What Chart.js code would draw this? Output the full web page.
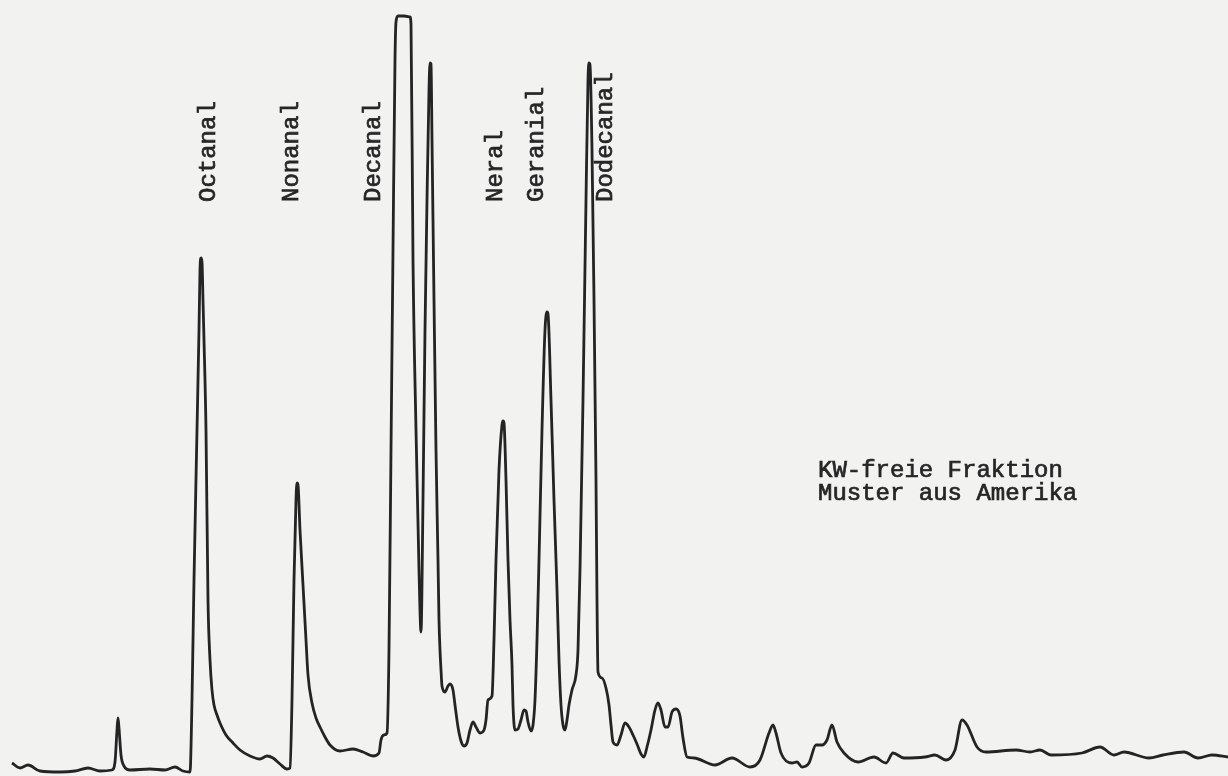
<!DOCTYPE html>
<html>
<head>
<meta charset="utf-8">
<script src="https://cdn.jsdelivr.net/npm/chart.js@4/dist/chart.umd.min.js"></script>
<style>
  html, body { margin: 0; padding: 0; background: #f2f2f0; }
  #wrap { width: 1228px; height: 776px; }
</style>
</head>
<body>
<div id="wrap"><canvas id="gcChart" width="1228" height="776"></canvas></div>
<script>
// ================= Data =================
// recorder trace: chart-paper position (x) and pen deflection (signal)
const retention = [
    12, 20, 28, 40, 60, 75, 88, 100, 112, 115, 117, 118, 119, 121, 124, 130, 150, 165, 175, 183, 190,
    192, 194, 197, 199, 200, 201, 202, 203, 204, 206, 208, 210, 212, 214, 217, 220, 226, 233, 240, 250,
    260, 267, 273, 280, 287, 290,
    292, 294, 296, 297, 298, 300, 303, 306, 308, 312, 316, 320, 325, 330, 340, 353, 363, 373, 379, 381,
    384, 387,
    389, 391, 393, 395, 396, 398, 404, 410, 411, 413, 416, 419, 421, 423, 425, 427, 429, 430, 431, 432,
    434, 436, 438, 439, 440, 441, 442, 445, 448, 450, 453, 455, 458, 461, 464, 467, 470, 473, 476, 480,
    484, 486, 488, 492, 494, 496, 499, 502, 503, 504, 506, 508, 510, 512, 513, 515, 518, 521, 524, 526,
    528, 531, 533, 535, 537, 539, 542, 545, 547, 548, 551, 554, 557, 559, 561, 563, 565, 567, 569, 572,
    576, 578, 580, 583, 586, 588, 589, 590, 592, 594, 596, 597, 598, 602, 606, 609, 611, 613, 617, 621,
    625, 629, 633, 637, 641, 644, 647, 651, 655, 658, 661, 665, 668, 672, 676, 680, 683, 687, 694, 715,
    732, 750, 760, 769, 773, 776, 781, 792, 797, 802, 809, 816, 822, 827, 832, 837, 844, 858, 874, 886,
    893, 904, 925, 935, 946, 955, 962, 967, 977, 986, 1016, 1030, 1040, 1051, 1082, 1100, 1114, 1124,
    1149, 1163, 1184, 1198, 1212, 1228
];
const signal = [
    13, 8, 11, 5, 4, 5, 8, 5, 6, 14, 46, 58, 48, 21, 10, 6, 7, 6, 9, 5, 4,
    76, 196, 346, 446, 506, 518, 514, 476, 436, 346, 176, 116, 86, 71, 61, 53, 41, 33, 26, 20,
    17, 20, 18, 12, 7, 8,
    76, 196, 276, 293, 291, 246, 191, 136, 101, 73, 58, 49, 39, 31, 25, 27, 24, 20, 23, 36,
    41, 43,
    126, 326, 526, 716, 754, 760, 760, 759, 752, 516, 346, 206, 144, 276, 446, 576, 686, 713, 712, 636,
    476, 326, 216, 156, 126, 106, 90, 84, 90, 92, 86, 71, 49, 35, 30, 33, 46, 54, 49, 43,
    46, 56, 76, 80, 136, 216, 306, 351, 355, 353, 296, 216, 156, 111, 71, 46, 47, 56, 66, 65,
    54, 45, 51, 76, 136, 216, 346, 446, 464, 462, 376, 276, 186, 116, 71, 51, 46, 56, 71, 86,
    101, 126, 206, 376, 576, 696, 713, 711, 626, 476, 296, 176, 104, 98, 88, 71, 51, 34, 31, 41,
    53, 49, 41, 32, 22, 19, 29, 46, 66, 73, 66, 49, 49, 64, 67, 60, 38, 19, 18, 11,
    18, 9, 16, 43, 51, 43, 23, 13, 14, 9, 13, 31, 31, 36, 51, 34, 23, 14, 19, 13,
    23, 18, 19, 21, 16, 26, 56, 51, 29, 24, 26, 24, 26, 21, 23, 29, 21, 24,
    18, 21, 24, 18, 21, 19
];

// peak labels and where their baseline sits on the paper
const peakNames = ["Octanal", "Nonanal", "Decanal", "Neral", "Geranial", "Dodecanal"];
const labelAt = [215, 298, 380, 502, 543, 612];
const noteLines = ["KW-freie Fraktion", "Muster aus Amerika"];

// ================= Labels plugin =================
const typewriterLabels = {
    id: "typewriterLabels",
    afterDatasetsDraw(chart) {
        const { ctx, scales: { x, y } } = chart;
        ctx.save();
        ctx.fillStyle = "#262626";
        ctx.strokeStyle = "#262626";
        ctx.lineWidth = 0.7;
        ctx.font = "24px 'Liberation Mono', 'DejaVu Sans Mono', monospace";
        ctx.textAlign = "left";
        ctx.textBaseline = "alphabetic";

        // typed text looks a bit heavier than the plain font
        const typeText = (text, px, py) => {
            ctx.fillText(text, px, py);
            ctx.strokeText(text, px, py);
        };

        peakNames.forEach((name, i) => {
            ctx.save();
            ctx.translate(x.getPixelForValue(labelAt[i]), y.getPixelForValue(574));
            ctx.rotate(-Math.PI / 2);
            typeText(name, 0, 0);
            ctx.restore();
        });

        noteLines.forEach((line, i) => {
            typeText(line, x.getPixelForValue(818), y.getPixelForValue(299 - i * 23));
        });
        ctx.restore();
    }
};

// ================= Chart =================
const ctx = document.getElementById("gcChart").getContext("2d");

new Chart(ctx, {
    type: "line",
    data: {
        datasets: [{
            data: retention.map((t, i) => ({ x: t, y: signal[i] })),
            borderColor: "#242424",
            borderWidth: 2.8,
            pointRadius: 0,
            cubicInterpolationMode: "monotone",
            fill: false
        }]
    },
    options: {
        responsive: false,
        animation: false,
        layout: { padding: 0 },
        scales: {
            x: { type: "linear", min: 0, max: 1228, display: false },
            y: { min: 0, max: 776, display: false }
        },
        plugins: {
            legend: { display: false },
            tooltip: { enabled: false }
        }
    },
    plugins: [typewriterLabels]
});
</script>
</body>
</html>
